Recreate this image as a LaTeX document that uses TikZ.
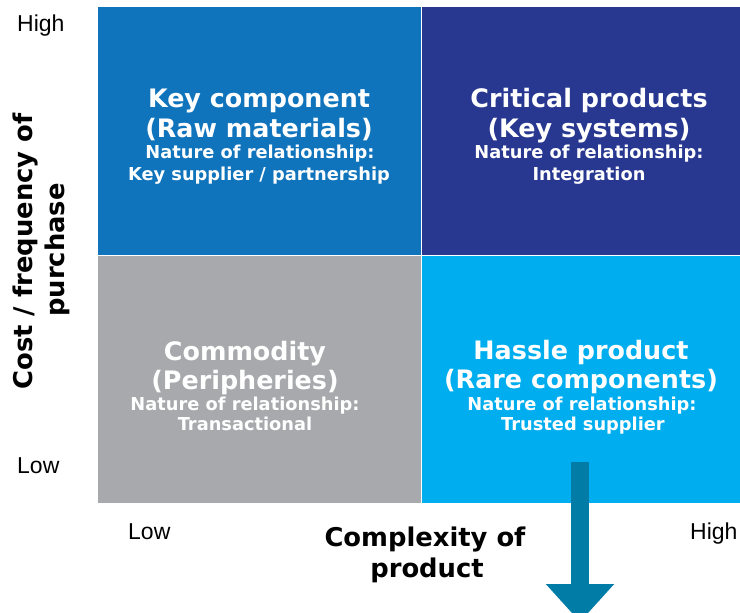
\documentclass[tikz,border=0pt]{standalone}
\usepackage{fontspec}
\setmainfont{DejaVu Sans}
\newfontfamily\axisfont{Liberation Sans}
\usetikzlibrary{arrows.meta}
\definecolor{keyblue}{RGB}{16,116,188}
\definecolor{critblue}{RGB}{40,56,145}
\definecolor{commgray}{RGB}{167,169,172}
\definecolor{hasslecyan}{RGB}{0,174,239}
\definecolor{arrowblue}{RGB}{0,124,167}
\tikzset{%
	quad/.style={draw=white, line width=1pt, anchor=north west, inner sep=0pt},
	headline/.style={text=white, font=\bfseries\fontsize{25.4}{30}\selectfont, anchor=base, inner sep=0pt},
	subline/.style={text=white, font=\bfseries\fontsize{17.8}{21}\selectfont, anchor=base, inner sep=0pt},
	axisvalue/.style={font=\axisfont\fontsize{23}{27}\selectfont, anchor=base west, inner sep=0pt},
	axistitle/.style={font=\bfseries\fontsize{25.8}{30}\selectfont, anchor=base, inner sep=0pt},
	bigarrow/.style={draw=arrowblue, line width=18pt, -{Triangle[width=66pt, length=38pt]}}
}

\begin{document}
\begin{tikzpicture}[x=1pt, y=-1pt]
	\useasboundingbox (0,0) rectangle (740,613);
	%quadrants
	\node [quad, fill=keyblue, minimum width=324pt, minimum height=249pt] (KC) at (97,6) {};
	\node [quad, fill=critblue, minimum width=320pt, minimum height=249pt] (CP) at (421,6) {};
	\node [quad, fill=commgray, minimum width=324pt, minimum height=248pt] (CO) at (97,255) {};
	\node [quad, fill=hasslecyan, minimum width=320pt, minimum height=248pt] (HP) at (421,255) {};

	%key component
	\node [headline] (KC1) at (259,107) {Key component};
	\node [headline] (KC2) at (259,137) {(Raw materials)};
	\node [subline]  (KC3) at (260,158) {Nature of relationship:};
	\node [subline]  (KC4) at (259,180) {Key supplier / partnership};
	%critical products
	\node [headline] (CP1) at (589,107) {Critical products};
	\node [headline] (CP2) at (589,137) {(Key systems)};
	\node [subline]  (CP3) at (589,158) {Nature of relationship:};
	\node [subline]  (CP4) at (589,180) {Integration};
	%commodity
	\node [headline] (CO1) at (245,360) {Commodity};
	\node [headline] (CO2) at (245,389) {(Peripheries)};
	\node [subline]  (CO3) at (245,410) {Nature of relationship:};
	\node [subline]  (CO4) at (245,430) {Transactional};
	%hassle product
	\node [headline] (HP1) at (581,359) {Hassle product};
	\node [headline] (HP2) at (581,388) {(Rare components)};
	\node [subline]  (HP3) at (582,410) {Nature of relationship:};
	\node [subline]  (HP4) at (583,430) {Trusted supplier};

	%axes
	\node [axisvalue] (yhigh) at (17,31)   {High};
	\node [axisvalue] (ylow)  at (17,473)  {Low};
	\node [axisvalue] (xlow)  at (128,539) {Low};
	\node [axisvalue] (xhigh) at (690,539) {High};
	\node [axistitle] (xtitle1) at (425,546) {Complexity of};
	\node [axistitle] (xtitle2) at (427,577) {product};
	\node [axistitle, rotate=90] (ytitle1) at (32,251.5) {Cost / frequency of};
	\node [axistitle, rotate=90] (ytitle2) at (64,250)   {purchase};

	%arrow
	\coordinate (arrowstart) at (580,462);
	\coordinate (arrowend)   at (580,622);
	\draw [bigarrow] (arrowstart) -- (arrowend);
\end{tikzpicture}
\end{document}
